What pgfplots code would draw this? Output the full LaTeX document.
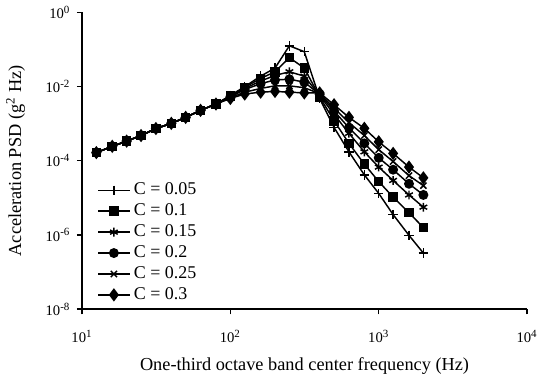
\documentclass[border=0pt]{standalone}
\usepackage{fontspec}
\setmainfont{Liberation Serif}
\usepackage{pgfplots}
\pgfplotsset{compat=1.18}
\begin{document}
\begin{tikzpicture}[trim right=(bbr)]
\begin{axis}[
  scale only axis,
  width=243pt, height=162pt,
  xmode=log, ymode=log,
  xmin=10, xmax=10000, ymin=1e-8, ymax=1,
  axis x line*=bottom, axis y line*=left,
  axis line style={line width=0.75pt},
  xtick={10,100,1000,10000},
  xticklabels={10\textsuperscript{1},10\textsuperscript{2},10\textsuperscript{3},10\textsuperscript{4}},
  ytick={1e-8,1e-6,1e-4,1e-2,1},
  yticklabels={10\textsuperscript{-8},10\textsuperscript{-6},10\textsuperscript{-4},10\textsuperscript{-2},10\textsuperscript{0}},
  minor tick num=0,
  xminorticks=false, yminorticks=false,
  tick align=outside,
  major tick length=2.8pt,
  tick style={line width=0.75pt, black},
  tick label style={font=\fontsize{8}{9}\selectfont},
  xticklabel style={yshift=-5pt},
  xlabel={One-third octave band center frequency (Hz)},
  ylabel={Acceleration PSD (g\textsuperscript{2} Hz)},
  label style={font=\fontsize{10}{12}\selectfont},
  every axis x label/.style={at={(axis description cs:0.5,-0.19)}, anchor=center},
  every axis y label/.style={at={(axis description cs:-0.149,0.5)}, rotate=90, anchor=center},
  legend style={draw=none, fill=none, at={(axis description cs:0.03,0.445)}, anchor=north west,
    font=\fontsize{9.8}{11}\selectfont, row sep=-0.6pt, inner sep=1pt},
  legend cell align=left,
  legend image code/.code={\draw[#1] (0cm,0cm) -- (0.6cm,0cm); \draw[#1,mark repeat=2,mark phase=2] plot coordinates {(0cm,0cm) (0.3cm,0cm) (0.6cm,0cm)};},
  every axis plot/.append style={black, line width=0.8pt},
]
% C = 0.05
\addplot[mark=+, mark size=2.6pt, mark options={line width=0.8pt}] coordinates {
(12.5,1.66e-4) (16,2.45e-4) (20,3.39e-4) (25,4.79e-4) (31.5,7.41e-4) (40,1.02e-3) (50,1.48e-3) (63,2.29e-3) (80,3.39e-3)
(100,5.75e-3) (125,1.00e-2) (160,1.91e-2) (200,3.16e-2) (250,1.26e-1) (315,8.71e-2) (400,4.79e-3) (500,7.94e-4)
(630,1.74e-4) (800,4.17e-5) (1000,1.32e-5) (1250,3.55e-6) (1600,9.77e-7) (2000,3.24e-7)};
\addlegendentry{C = 0.05}
% C = 0.1
\addplot[mark=square*, mark size=2.2pt] coordinates {
(12.5,1.66e-4) (16,2.45e-4) (20,3.39e-4) (25,4.79e-4) (31.5,7.41e-4) (40,1.02e-3) (50,1.48e-3) (63,2.29e-3) (80,3.39e-3)
(100,5.62e-3) (125,9.55e-3) (160,1.66e-2) (200,2.51e-2) (250,6.03e-2) (315,3.16e-2) (400,5.25e-3) (500,1.20e-3)
(630,2.95e-4) (800,8.13e-5) (1000,2.75e-5) (1250,1.05e-5) (1600,3.98e-6) (2000,1.58e-6)};
\addlegendentry{C = 0.1}
% C = 0.15
\addplot[mark=asterisk, mark size=2.4pt, mark options={line width=0.8pt}] coordinates {
(12.5,1.66e-4) (16,2.45e-4) (20,3.39e-4) (25,4.79e-4) (31.5,7.41e-4) (40,1.02e-3) (50,1.48e-3) (63,2.29e-3) (80,3.39e-3)
(100,5.37e-3) (125,8.91e-3) (160,1.41e-2) (200,2.00e-2) (250,2.51e-2) (315,1.91e-2) (400,5.75e-3) (500,1.78e-3)
(630,5.50e-4) (800,1.74e-4) (1000,6.76e-5) (1250,2.95e-5) (1600,1.20e-5) (2000,5.62e-6)};
\addlegendentry{C = 0.15}
% C = 0.2
\addplot[mark=*, mark size=2.3pt] coordinates {
(12.5,1.66e-4) (16,2.45e-4) (20,3.39e-4) (25,4.79e-4) (31.5,7.41e-4) (40,1.02e-3) (50,1.48e-3) (63,2.29e-3) (80,3.39e-3)
(100,5.25e-3) (125,8.32e-3) (160,1.20e-2) (200,1.51e-2) (250,1.58e-2) (315,1.32e-2) (400,6.17e-3) (500,2.19e-3)
(630,7.76e-4) (800,2.95e-4) (1000,1.20e-4) (1250,5.75e-5) (1600,2.40e-5) (2000,1.20e-5)};
\addlegendentry{C = 0.2}
% C = 0.25
\addplot[mark=x, mark size=2.4pt, mark options={line width=0.8pt}] coordinates {
(12.5,1.66e-4) (16,2.45e-4) (20,3.39e-4) (25,4.79e-4) (31.5,7.41e-4) (40,1.02e-3) (50,1.48e-3) (63,2.29e-3) (80,3.39e-3)
(100,5.01e-3) (125,7.08e-3) (160,8.91e-3) (200,1.05e-2) (250,1.05e-2) (315,9.33e-3) (400,6.46e-3) (500,2.63e-3)
(630,1.07e-3) (800,4.79e-4) (1000,2.00e-4) (1250,9.55e-5) (1600,3.98e-5) (2000,2.14e-5)};
\addlegendentry{C = 0.25}
% C = 0.3
\addplot[mark=diamond*, mark size=3pt] coordinates {
(12.5,1.66e-4) (16,2.45e-4) (20,3.39e-4) (25,4.79e-4) (31.5,7.41e-4) (40,1.02e-3) (50,1.48e-3) (63,2.29e-3) (80,3.39e-3)
(100,4.79e-3) (125,6.31e-3) (160,7.08e-3) (200,7.41e-3) (250,7.08e-3) (315,6.76e-3) (400,6.76e-3) (500,3.24e-3)
(630,1.48e-3) (800,7.50e-4) (1000,3.24e-4) (1250,1.58e-4) (1600,6.76e-5) (2000,3.47e-5)};
\addlegendentry{C = 0.3}
\coordinate (xend) at (rel axis cs:1,0);
\end{axis}
\coordinate (bbr) at ([xshift=6.5pt]xend);
\end{tikzpicture}
\end{document}
